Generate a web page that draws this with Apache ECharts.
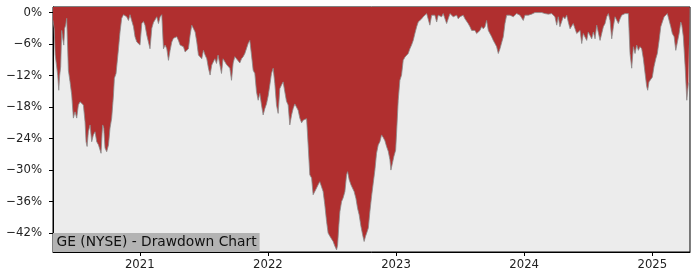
<!DOCTYPE html>
<html>
<head>
<meta charset="utf-8">
<script src="https://cdn.jsdelivr.net/npm/echarts@6/dist/echarts.min.js"></script>
<style>
html,body{margin:0;padding:0;background:#fff;}
#chart{width:700px;height:280px;}
</style>
</head>
<body>
<div id="chart"></div>
<script>
// Dates as decimal years
var dates = [
2020.323,2020.332,2020.340,2020.352,2020.360,2020.368,2020.375,2020.383,2020.391,2020.399,
2020.407,2020.414,2020.422,2020.430,2020.443,2020.456,2020.469,2020.482,2020.495,2020.508,
2020.521,2020.534,2020.547,2020.560,2020.573,2020.581,2020.589,2020.599,2020.612,2020.625,
2020.638,2020.651,2020.664,2020.678,2020.690,2020.698,2020.706,2020.711,2020.719,2020.729,
2020.742,2020.756,2020.768,2020.781,2020.795,2020.802,2020.815,2020.823,2020.834,2020.846,
2020.859,2020.873,2020.885,2020.898,2020.912,2020.924,2020.938,2020.951,2020.963,2020.977,
2020.990,2021.002,2021.016,2021.029,2021.041,2021.055,2021.068,2021.080,2021.094,2021.107,
2021.119,2021.133,2021.146,2021.159,2021.172,2021.185,2021.198,2021.211,2021.224,2021.237,
2021.250,2021.263,2021.276,2021.289,2021.302,2021.315,2021.328,2021.341,2021.354,2021.367,
2021.380,2021.393,2021.406,2021.419,2021.432,2021.445,2021.458,2021.471,2021.484,2021.497,
2021.510,2021.523,2021.536,2021.549,2021.562,2021.572,2021.586,2021.599,2021.611,2021.625,
2021.638,2021.650,2021.664,2021.677,2021.689,2021.703,2021.716,2021.729,2021.742,2021.755,
2021.768,2021.781,2021.794,2021.807,2021.820,2021.833,2021.846,2021.859,2021.872,2021.885,
2021.898,2021.911,2021.924,2021.937,2021.950,2021.963,2021.976,2021.989,2022.002,2022.015,
2022.028,2022.041,2022.054,2022.067,2022.080,2022.093,2022.106,2022.119,2022.132,2022.145,
2022.158,2022.171,2022.185,2022.197,2022.210,2022.224,2022.236,2022.249,2022.263,2022.275,
2022.288,2022.302,2022.314,2022.327,2022.341,2022.353,2022.366,2022.380,2022.392,2022.405,
2022.419,2022.431,2022.444,2022.458,2022.470,2022.484,2022.497,2022.509,2022.523,2022.536,
2022.544,2022.554,2022.562,2022.575,2022.587,2022.601,2022.614,2022.622,2022.634,2022.648,
2022.661,2022.673,2022.687,2022.700,2022.712,2022.726,2022.739,2022.751,2022.762,2022.775,
2022.784,2022.796,2022.809,2022.822,2022.835,2022.848,2022.861,2022.874,2022.887,2022.900,
2022.913,2022.926,2022.939,2022.952,2022.960,2022.970,2022.983,2022.997,2023.004,2023.017,
2023.030,2023.043,2023.056,2023.069,2023.082,2023.095,2023.108,2023.121,2023.134,2023.147,
2023.161,2023.173,2023.186,2023.200,2023.212,2023.225,2023.239,2023.251,2023.264,2023.278,
2023.290,2023.303,2023.317,2023.329,2023.342,2023.356,2023.368,2023.381,2023.395,2023.407,
2023.421,2023.434,2023.446,2023.460,2023.473,2023.485,2023.499,2023.512,2023.524,2023.538,
2023.551,2023.563,2023.577,2023.590,2023.602,2023.616,2023.629,2023.641,2023.655,2023.668,
2023.681,2023.694,2023.707,2023.720,2023.733,2023.746,2023.759,2023.772,2023.785,2023.798,
2023.811,2023.824,2023.837,2023.850,2023.863,2023.876,2023.889,2023.902,2023.915,2023.928,
2023.941,2023.954,2023.967,2023.980,2023.993,2024.006,2024.019,2024.032,2024.045,2024.058,
2024.071,2024.084,2024.098,2024.110,2024.123,2024.137,2024.149,2024.162,2024.176,2024.188,
2024.201,2024.215,2024.227,2024.240,2024.254,2024.266,2024.279,2024.293,2024.305,2024.318,
2024.332,2024.344,2024.358,2024.371,2024.383,2024.397,2024.410,2024.422,2024.436,2024.449,
2024.461,2024.475,2024.488,2024.500,2024.514,2024.527,2024.540,2024.553,2024.566,2024.579,
2024.592,2024.605,2024.618,2024.631,2024.644,2024.657,2024.670,2024.683,2024.696,2024.709,
2024.722,2024.735,2024.748,2024.761,2024.774,2024.787,2024.800,2024.813,2024.826,2024.839,
2024.852,2024.865,2024.878,2024.891,2024.904,2024.917,2024.930,2024.943,2024.956,2024.964,
2024.974,2024.988,2025.000,2025.013,2025.027,2025.039,2025.053,2025.066,2025.078,2025.092,
2025.105,2025.117,2025.131,2025.144,2025.156,2025.170,2025.183,2025.195,2025.209,2025.222,
2025.230,2025.242,2025.256,2025.269,2025.281,2025.291
];
// Drawdown in percent
var drawdown = [
-1.5,-3.0,-8.0,-8.3,-12.0,-14.8,-12.0,-10.3,-3.4,-5.0,
-6.2,-3.0,-2.4,-1.1,-11.0,-13.2,-15.7,-20.1,-18.9,-20.1,
-17.6,-17.0,-17.0,-17.6,-20.8,-24.6,-25.5,-22.7,-21.4,-24.6,
-23.3,-22.7,-24.6,-25.2,-25.5,-26.8,-23.0,-21.4,-22.0,-25.8,
-26.5,-25.2,-22.0,-20.1,-15.7,-12.5,-11.6,-11.6,-6.9,-3.7,
-1.1,-0.4,-0.2,-0.8,-1.5,-0.4,-0.6,-2.7,-4.6,-5.6,
-5.8,-6.2,-2.1,-1.7,-2.4,-4.3,-4.6,-6.9,-3.0,-1.9,
-1.4,-0.8,-2.1,-0.8,-0.4,-6.9,-6.2,-6.9,-9.1,-7.2,
-5.6,-4.9,-4.9,-4.6,-5.3,-6.2,-5.9,-6.5,-7.5,-7.2,
-6.9,-4.3,-2.4,-2.7,-3.7,-5.6,-8.1,-8.4,-8.8,-7.2,
-8.1,-8.8,-10.6,-11.9,-10.0,-9.7,-8.8,-9.7,-8.1,-9.9,
-11.6,-8.8,-8.8,-9.9,-9.6,-10.6,-12.9,-9.6,-8.4,-8.8,
-9.0,-9.6,-8.8,-8.4,-7.8,-7.5,-5.9,-5.3,-8.1,-11.0,
-11.6,-15.1,-16.7,-15.4,-17.6,-19.5,-18.3,-17.4,-15.9,-13.8,
-11.6,-10.6,-13.5,-17.6,-19.2,-14.5,-13.8,-13.2,-15.1,-16.9,
-17.6,-21.4,-19.5,-18.3,-17.4,-17.6,-18.6,-20.1,-21.0,-20.5,
-20.5,-20.2,-25.2,-30.9,-31.5,-34.7,-34.7,-33.4,-32.8,-32.2,
-32.2,-34.1,-36.6,-39.8,-42.0,-42.6,-42.9,-43.6,-44.5,-45.2,
-44.3,-40.4,-37.9,-36.0,-35.3,-34.1,-30.9,-30.3,-31.8,-32.8,
-33.1,-34.1,-35.4,-37.3,-38.5,-40.7,-42.3,-43.6,-42.6,-41.7,
-41.0,-37.9,-35.0,-32.5,-30.0,-26.8,-25.2,-24.6,-23.3,-23.8,
-24.4,-25.5,-26.4,-28.0,-30.0,-28.9,-27.4,-26.2,-23.0,-16.7,
-12.9,-11.9,-9.1,-8.5,-8.4,-7.8,-6.9,-6.2,-5.3,-4.0,
-2.7,-1.8,-1.5,-1.2,-0.8,-0.5,-0.2,-0.5,-2.4,-0.5,
-0.8,-0.5,-1.8,-0.5,-0.5,-0.8,-0.2,-0.5,-2.1,-1.2,
-0.2,-0.5,-0.8,-0.5,-0.5,-1.2,-0.8,-0.5,-0.5,-1.2,
-1.5,-2.1,-2.7,-3.4,-3.1,-3.4,-4.0,-3.7,-3.4,-2.7,
-3.1,-2.7,-1.5,-3.4,-3.7,-4.6,-5.3,-5.9,-6.5,-7.8,
-6.9,-7.2,-4.6,-2.1,-0.5,-0.2,-0.5,-0.5,-0.8,-0.5,
-0.2,-0.5,-0.5,-0.8,-1.5,-0.5,-0.3,-0.5,-0.5,-0.3,
-0.2,0,0,0,0,0,-0.2,-0.2,-0.2,-0.3,
-0.5,-0.2,-0.5,-0.8,-2.4,-0.8,-2.7,-3.0,-0.8,-1.2,
-0.5,-1.8,-3.1,-3.4,-2.1,-3.1,-4.0,-4.3,-3.4,-5.9,
-4.0,-4.0,-5.3,-3.7,-3.4,-5.0,-3.7,-5.0,-2.4,-2.1,
-5.3,-5.0,-2.7,-2.1,-0.8,-0.2,-1.5,-5.0,-2.7,-0.8,
-0.5,-2.1,-1.2,-0.5,-0.3,-0.2,-0.2,-0.2,-7.8,-10.6,
-6.5,-7.8,-6.2,-7.2,-6.5,-6.9,-8.8,-11.5,-14.1,-14.8,
-13.2,-12.9,-12.3,-10.3,-8.8,-7.8,-5.3,-2.7,-1.8,-0.8,
-0.5,-0.2,-0.5,-2.7,-4.0,-4.6,-7.2,-7.5,-4.0,-1.8,
-2.4,-4.6,-10.3,-16.7,-13.5,-13.2
];
var yearTicks = [2021, 2022, 2023, 2024, 2025];
var pctTicks = [0, -6, -12, -18, -24, -30, -36, -42];
var titleText = 'GE (NYSE) - Drawdown Chart';

var seriesData = dates.map(function (d, i) { return [d, drawdown[i]]; });
var font = "'DejaVu Sans', sans-serif";

var chart = echarts.init(document.getElementById('chart'), null, {renderer: 'canvas'});
chart.setOption({
  animation: false,
  backgroundColor: '#ffffff',
  title: {
    text: titleText,
    left: 53,
    top: 233,
    padding: [2, 3, 2, 3.5],
    backgroundColor: '#b3b3b3',
    textStyle: {fontFamily: font, fontSize: 13.8, lineHeight: 15, fontWeight: 'normal', color: '#111'}
  },
  grid: {
    left: 53, right: 10, top: 7, bottom: 28,
    show: true, backgroundColor: '#ececec', borderColor: '#000', borderWidth: 1
  },
  xAxis: {
    type: 'value',
    min: 2020.323, max: 2025.294,
    splitLine: {show: false},
    axisLine: {show: true, onZero: false, lineStyle: {color: '#000', width: 1}},
    axisTick: {show: true, length: 4, lineStyle: {color: '#000'}, customValues: yearTicks},
    axisLabel: {
      customValues: yearTicks, margin: 7, color: '#222', fontFamily: font, fontSize: 11.7,
      formatter: function (v) { return String(Math.round(v)); }
    }
  },
  yAxis: {
    type: 'value',
    min: -45.6, max: 1.06,
    splitLine: {show: false},
    axisLine: {show: true, onZero: false, lineStyle: {color: '#000', width: 1}},
    axisTick: {show: true, length: 4, lineStyle: {color: '#000'}, customValues: pctTicks},
    axisLabel: {
      customValues: pctTicks, margin: 11, color: '#222', fontFamily: font, fontSize: 11.7,
      formatter: function (v) { return (v < 0 ? '\u2212' : '') + Math.abs(Math.round(v)) + '%'; }
    }
  },
  series: [{
    type: 'line',
    data: seriesData,
    showSymbol: false,
    symbol: 'none',
    lineStyle: {color: '#8a8a8a', width: 0.8},
    areaStyle: {color: '#b02f2f', opacity: 1, origin: 'end'}
  }]
});
</script>
</body>
</html>
